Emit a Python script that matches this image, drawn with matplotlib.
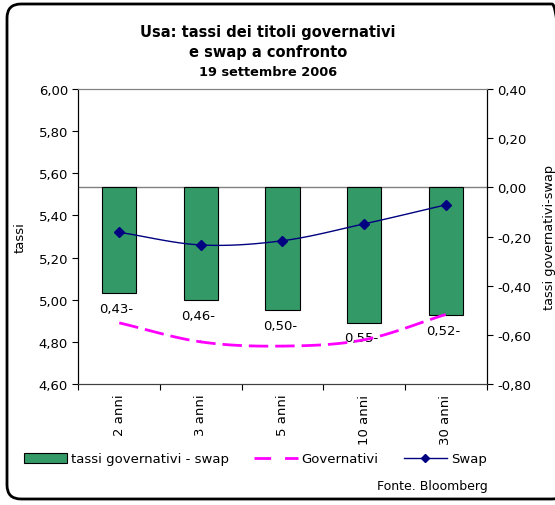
import numpy as np
import matplotlib
matplotlib.use("Agg")
import matplotlib.pyplot as plt
from matplotlib.patches import FancyBboxPatch, Patch
from matplotlib.lines import Line2D
from matplotlib.ticker import FuncFormatter, FixedLocator
from matplotlib.transforms import IdentityTransform

categories = ['2 anni', '3 anni', '5 anni', '10 anni', '30 anni']
spread = [-0.43, -0.46, -0.50, -0.55, -0.52]      # tassi governativi - swap
swap = [5.32, 5.26, 5.28, 5.36, 5.45]
governativi = [4.89, 4.80, 4.78, 4.81, 4.93]

GREEN = '#339966'
MAGENTA = '#ff00ff'
NAVY = '#000080'


def comma(v, pos=None):
    v = round(v, 2) + 0.0
    if abs(v) < 1e-9:
        v = 0.0
    return f"{v:.2f}".replace('.', ',')


def smooth(x, y, n=30):
    # curva tipo Excel (Catmull-Rom), passa per i punti
    x = np.asarray(x, float)
    y = np.asarray(y, float)
    px = np.concatenate([[2 * x[0] - x[1]], x, [2 * x[-1] - x[-2]]])
    py = np.concatenate([[2 * y[0] - y[1]], y, [2 * y[-1] - y[-2]]])
    xs, ys = [], []
    t = np.linspace(0, 1, n)
    for i in range(1, len(px) - 2):
        for p, out in ((px, xs), (py, ys)):
            p0, p1, p2, p3 = p[i - 1], p[i], p[i + 1], p[i + 2]
            out.extend(0.5 * ((2 * p1) + (-p0 + p2) * t
                              + (2 * p0 - 5 * p1 + 4 * p2 - p3) * t ** 2
                              + (-p0 + 3 * p1 - 3 * p2 + p3) * t ** 3))
    return np.array(xs), np.array(ys)


plt.rcParams['font.family'] = 'DejaVu Sans'
fig = plt.figure(figsize=(5.55, 5.06), dpi=100)
ax = fig.add_axes([0.1414, 0.2391, 0.7352, 0.583])
ax2 = ax.twinx()

x = np.arange(len(categories))

# barre sull'asse destro
ax2.bar(x, spread, width=0.42, color=GREEN, edgecolor='black', linewidth=0.8, zorder=2)
ax2.axhline(0, color='#808080', linewidth=1, zorder=1)
for xi, v in zip(x, spread):
    ax2.annotate(comma(abs(v)) + '-', (xi, v), xytext=(-2, -11), textcoords='offset points',
                 ha='center', va='center', fontsize=9.5)
ax2.set_ylim(-0.8, 0.4)
ax2.set_yticks(np.arange(-0.8, 0.41, 0.2))
ax2.yaxis.set_major_formatter(FuncFormatter(comma))
ax2.set_ylabel('tassi governativi-swap', fontsize=9.3)
ax2.yaxis.set_label_coords(1.138, 0.5)

# linee sull'asse sinistro
sx, sy = smooth(x, governativi)
ax.plot(sx, sy, color=MAGENTA, linewidth=2, dashes=(7, 2.5), zorder=3)
sx, sy = smooth(x, swap)
ax.plot(sx, sy, color=NAVY, linewidth=1, zorder=3)
ax.plot(x, swap, linestyle='none', marker='D', markersize=5, color=NAVY, zorder=4)
ax.set_ylim(4.6, 6.0)
ax.set_yticks(np.arange(4.6, 6.01, 0.2))
ax.yaxis.set_major_formatter(FuncFormatter(comma))
ax.set_ylabel('tassi', fontsize=9.5)
ax.yaxis.set_label_coords(-0.126, 0.5)

ax.set_zorder(ax2.get_zorder() + 1)
ax.patch.set_visible(False)

ax.set_xlim(-0.5, len(categories) - 0.5)
ax.xaxis.set_major_locator(FixedLocator(np.arange(-0.5, len(categories), 1)))
ax.xaxis.set_minor_locator(FixedLocator(x))
ax.set_xticklabels([])
ax.set_xticklabels(categories, minor=True, rotation=90, fontsize=9.5)
ax.tick_params(axis='x', which='major', length=4, direction='out')
ax.tick_params(axis='x', which='minor', length=0, pad=7)
ax.tick_params(axis='y', labelsize=9.5, length=4)
ax2.tick_params(axis='y', labelsize=9.5, length=4)

for a in (ax, ax2):
    a.spines['top'].set_color('#808080')
    a.spines['bottom'].set_color('#404040')
    a.spines['left'].set_color('black')
    a.spines['right'].set_color('black')

# titolo
fig.text(0.483, 1 - 33 / 506, 'Usa: tassi dei titoli governativi', ha='center', va='center',
         fontsize=10.5, fontweight='bold')
fig.text(0.483, 1 - 53 / 506, 'e swap a confronto', ha='center', va='center',
         fontsize=10.5, fontweight='bold')
fig.text(0.483, 1 - 72 / 506, '19 settembre 2006', ha='center', va='center',
         fontsize=9.3, fontweight='bold')

handles = [Patch(facecolor=GREEN, edgecolor='black', linewidth=0.8),
           Line2D([], [], color=MAGENTA, linewidth=2, dashes=(6, 5)),
           Line2D([], [], color=NAVY, linewidth=1, marker='D', markersize=4)]
fig.legend(handles, ['tassi governativi - swap', 'Governativi', 'Swap'],
           loc='center', bbox_to_anchor=(0.46, 1 - 460 / 506), ncol=3, frameon=False,
           fontsize=9.5, handlelength=3.3, handletextpad=0.3, columnspacing=1.9)

fig.text(488 / 555, 1 - 487 / 506, 'Fonte. Bloomberg', ha='right', va='center', fontsize=9)

# cornice arrotondata (il bordo destro esce dall'immagine)
frame = FancyBboxPatch((15, 14), 543, 479, boxstyle='round,pad=8,rounding_size=14',
                       transform=IdentityTransform(), facecolor='none', edgecolor='black',
                       linewidth=2)
fig.patches.append(frame)

fig.savefig('out.png', dpi=100)
